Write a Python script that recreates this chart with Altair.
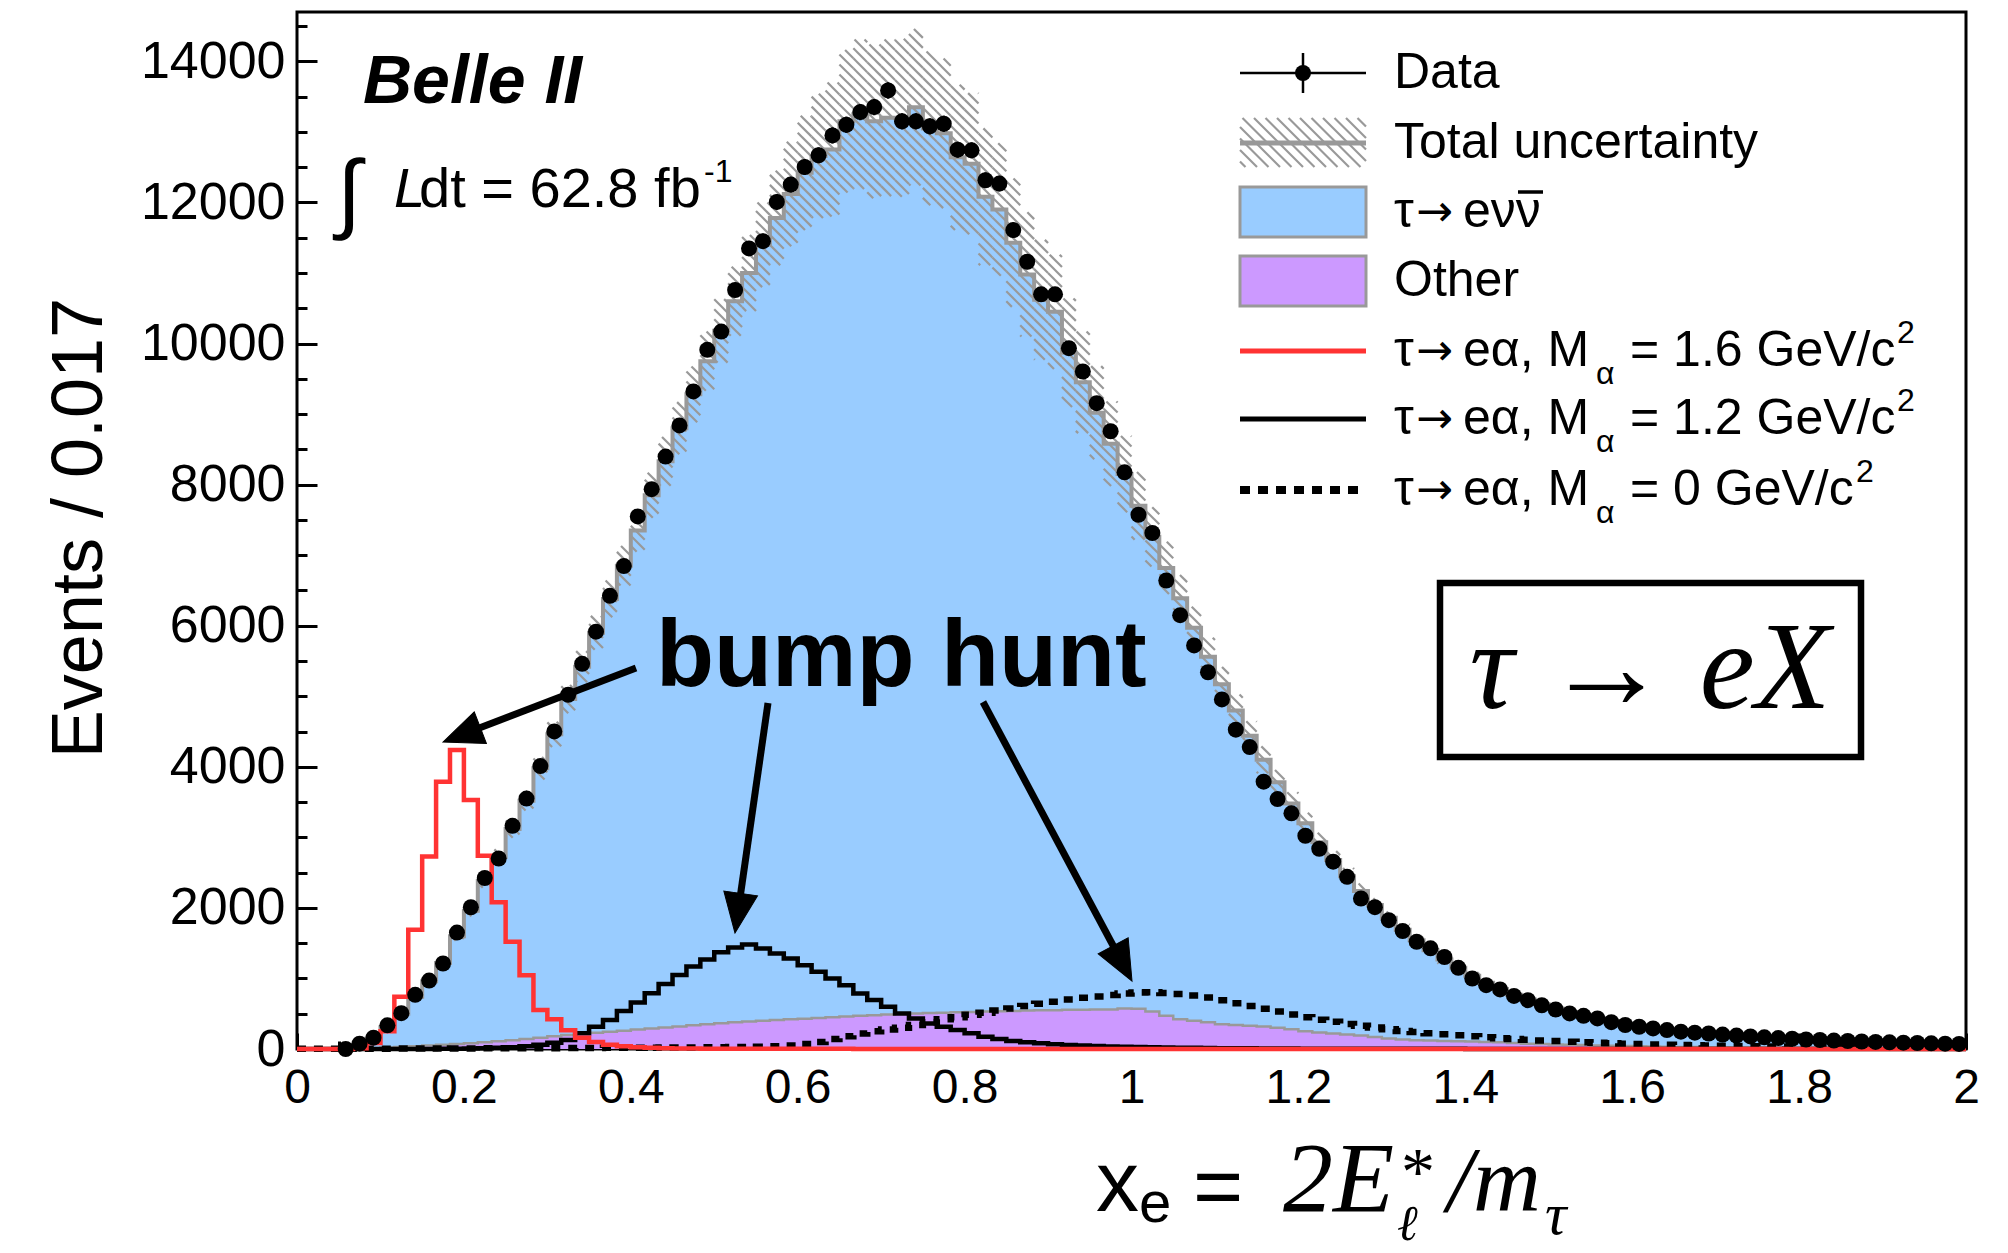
import math
import altair as alt
import pandas as pd

# ---------------- values (120 bins, 0..2) ----------------
N_BINS = 120
X_MIN, X_MAX = 0.0, 2.0
Y_MAX = 14700

data_counts = [0, 0, 0, 0, 75, 160, 335, 508, 768, 970,
               1212, 1650, 2009, 2424, 2700, 3163, 3550, 4011, 4502, 5022,
               5460, 5916, 6424, 6845, 7550, 7936, 8398, 8840, 9321, 9911,
               10170, 10759, 11348, 11452, 12008, 12253, 12503, 12669, 12951, 13102,
               13281, 13352, 13588, 13150, 13150, 13079, 13116, 12748, 12739, 12315,
               12268, 11608, 11160, 10698, 10698, 9934, 9604, 9155, 8757, 8175,
               7573, 7315, 6641, 6150, 5721, 5341, 4955, 4526, 4280, 3789,
               3543, 3341, 3023, 2839, 2655, 2440, 2133, 2010, 1826, 1673,
               1519, 1427, 1304, 1151, 999, 905, 844, 752, 692, 620,
               560, 505, 470, 434, 380, 340, 315, 292, 268, 245,
               232, 220, 205, 190, 178, 165, 155, 145, 135, 128,
               120, 113, 106, 100, 95, 90, 85, 80, 76, 72]

mc_total = [0, 0, 0, 10, 60, 150, 310, 500, 740, 960,
            1220, 1600, 1960, 2380, 2720, 3120, 3520, 3980, 4460, 4960,
            5420, 5900, 6380, 6850, 7350, 7850, 8330, 8800, 9280, 9750,
            10180, 10600, 11000, 11400, 11780, 12120, 12420, 12660, 12750, 13150,
            13250, 13150, 13200, 13200, 13350, 13050, 12980, 12640, 12550, 12080,
            11900, 11430, 10980, 10620, 10450, 9870, 9450, 9020, 8580, 8150,
            7700, 7260, 6820, 6390, 5970, 5560, 5170, 4800, 4440, 4100,
            3780, 3480, 3200, 2930, 2680, 2450, 2240, 2040, 1860, 1690,
            1540, 1400, 1270, 1150, 1040, 940, 850, 770, 700, 635,
            575, 520, 475, 432, 392, 355, 322, 293, 268, 246,
            228, 212, 198, 185, 173, 162, 152, 143, 135, 128,
            121, 114, 108, 102, 97, 92, 87, 83, 79, 75]

other = [0, 0, 0, 2, 5, 10, 20, 30, 40, 50,
         60, 70, 80, 95, 110, 125, 140, 160, 180, 200,
         215, 230, 245, 260, 275, 290, 305, 320, 335, 350,
         365, 380, 390, 400, 410, 420, 430, 440, 450, 460,
         470, 480, 490, 500, 505, 510, 515, 520, 525, 530,
         535, 540, 545, 550, 550, 555, 555, 560, 560, 575,
         570, 530, 470, 420, 400, 380, 350, 340, 330, 320,
         300, 280, 250, 235, 220, 205, 190, 170, 150, 135,
         125, 120, 115, 110, 105, 100, 95, 85, 75, 70,
         65, 60, 55, 50, 45, 42, 38, 35, 32, 30,
         28, 26, 24, 22, 21, 20, 19, 18, 17, 16,
         15, 14, 13, 12, 11, 10, 9, 8, 8, 7]

sig_16 = [0, 0, 0, 0, 10, 85, 250, 740, 1690, 2730,
          3790, 4240, 3530, 2740, 2080, 1520, 1045, 554, 420, 265,
          160, 100, 60, 40, 25, 18, 12, 8, 6, 5,
          4, 4, 3, 3, 3, 2, 2, 2, 2, 2,
          1, 1, 1, 1, 1, 1, 1, 1, 1, 1,
          1, 1, 1, 1, 1, 1, 1, 1, 1, 1,
          1, 1, 1, 1, 1, 1, 1, 1, 1, 1,
          0, 0, 0, 0, 0, 0, 0, 0, 0, 0,
          0, 0, 0, 0, 0, 0, 0, 0, 0, 0,
          0, 0, 0, 0, 0, 0, 0, 0, 0, 0,
          0, 0, 0, 0, 0, 0, 0, 0, 0, 0,
          0, 0, 0, 0, 0, 0, 0, 0, 0, 0]

sig_12 = [0, 0, 0, 0, 0, 0, 0, 0, 0, 0,
          2, 5, 8, 12, 18, 25, 40, 60, 90, 127,
          222, 316, 410, 540, 660, 790, 920, 1050, 1170, 1270,
          1370, 1440, 1480, 1424, 1354, 1283, 1188, 1094, 999, 905,
          787, 693, 598, 505, 434, 363, 316, 269, 222, 174,
          140, 115, 95, 80, 68, 58, 50, 43, 37, 32,
          28, 24, 21, 18, 16, 14, 12, 10, 9, 8,
          7, 6, 5, 5, 4, 4, 3, 3, 3, 2,
          2, 2, 2, 2, 1, 1, 1, 1, 1, 1,
          0, 0, 0, 0, 0, 0, 0, 0, 0, 0,
          0, 0, 0, 0, 0, 0, 0, 0, 0, 0,
          0, 0, 0, 0, 0, 0, 0, 0, 0, 0]

sig_0 = [2, 3, 3, 4, 4, 5, 5, 6, 6, 7,
         7, 8, 8, 9, 9, 10, 10, 11, 12, 13,
         14, 15, 16, 17, 18, 19, 20, 21, 22, 24,
         25, 27, 29, 32, 40, 50, 70, 100, 140, 180,
         220, 250, 275, 300, 340, 380, 420, 450, 485, 515,
         545, 575, 610, 640, 670, 700, 725, 745, 765, 785,
         800, 805, 795, 780, 760, 730, 690, 650, 610, 570,
         530, 490, 450, 415, 385, 355, 330, 305, 280, 255,
         240, 225, 210, 195, 180, 165, 152, 140, 130, 120,
         112, 104, 96, 89, 82, 76, 70, 65, 60, 56,
         52, 49, 46, 43, 40, 37, 35, 33, 31, 29,
         27, 26, 25, 24, 23, 22, 21, 20, 19, 18]

mc_unc = [0, 0, 0, 5, 5, 8, 14, 22, 32, 40,
          50, 65, 80, 95, 110, 125, 140, 160, 180, 200,
          220, 240, 260, 280, 300, 320, 345, 370, 395, 420,
          450, 490, 540, 600, 670, 740, 810, 880, 950, 1010,
          1060, 1090, 1110, 1120, 1110, 1090, 1060, 1030, 1000, 970,
          940, 910, 880, 850, 810, 770, 720, 660, 600, 540,
          480, 420, 370, 330, 300, 270, 245, 225, 205, 190,
          175, 160, 148, 136, 125, 115, 105, 96, 88, 80,
          73, 66, 60, 55, 50, 45, 41, 37, 34, 31,
          29, 27, 25, 23, 21, 20, 18, 17, 16, 15,
          14, 13, 12, 12, 11, 11, 10, 10, 9, 9,
          8, 8, 8, 7, 7, 7, 6, 6, 6, 6]

x_major = [0, 0.2, 0.4, 0.6, 0.8, 1.0, 1.2, 1.4, 1.6, 1.8, 2.0]
x_minor = [round(0.05 * i, 2) for i in range(41)]
y_major = [0, 2000, 4000, 6000, 8000, 10000, 12000, 14000]
y_minor = [500 * i for i in range(30)]

# ---------------- layout & style ----------------
W, H = 1669, 1037
PAD = {"left": 297, "top": 12, "right": 42, "bottom": 204}
SANS = "Liberation Sans"
SERIF = "Liberation Serif"
ARROWFONT = "DejaVu Sans"
BLUE, PURPLE, GRAY, RED = "#99ccff", "#cc99ff", "#999999", "#ff3333"
DOT = 256

bw = (X_MAX - X_MIN) / N_BINS
edges = [X_MIN + k * bw for k in range(N_BINS + 1)]
centers = [X_MIN + (k + 0.5) * bw for k in range(N_BINS)]


def px_x(x):
    return (x - X_MIN) / (X_MAX - X_MIN) * W


def px_y(v):
    return H - v / Y_MAX * H


def dx(p):
    return X_MIN + p / W * (X_MAX - X_MIN)


def dv(p):
    return (H - p) / H * Y_MAX


def step_frame(vals):
    return pd.DataFrame({"x": edges, "v": list(vals) + [vals[-1]]})


def hatch(rects, m=1.0, dc=10.0):
    segs = []
    for X0, X1, Yt, Yb in rects:
        cmin = Yt - m * X1
        cmax = Yb - m * X0
        for n in range(math.ceil(cmin / dc), math.floor(cmax / dc) + 1):
            c = n * dc
            xa = max(X0, (Yt - c) / m)
            xb = min(X1, (Yb - c) / m)
            if xb - xa > 0.3:
                segs.append((xa, m * xa + c, xb, m * xb + c))
    return segs


band_rects = []
for k in range(N_BINS):
    if mc_unc[k] > 0:
        band_rects.append((px_x(edges[k]), px_x(edges[k + 1]),
                           px_y(mc_total[k] + mc_unc[k]),
                           px_y(max(0, mc_total[k] - mc_unc[k]))))
segs = hatch(band_rects)
# legend hatch swatch
LEG_X0, LEG_X1 = 943, 1069
segs_leg = hatch([(LEG_X0, LEG_X1, 106, 155)], m=1.0, dc=11.5)
hatch_df = pd.DataFrame([{"x": dx(a), "y": dv(b), "x2": dx(c), "y2": dv(d)}
                         for a, b, c, d in segs + segs_leg])

xs = alt.Scale(domain=[X_MIN, X_MAX], nice=False, zero=False)
ys = alt.Scale(domain=[0, Y_MAX], nice=False, zero=False)

ax_x_lab = alt.Axis(values=x_major, format="~g", labelFont=SANS, labelFontSize=48,
                    labelColor="black", labelPadding=15, ticks=False, domain=False,
                    grid=False, title=None, labelFlush=False, labelOverlap=False,
                    labelBound=False)
ax_y_lab = alt.Axis(values=y_major, format="d", labelFont=SANS, labelFontSize=52,
                    labelColor="black", labelPadding=12, ticks=False, domain=False,
                    grid=False, title=None, labelFlush=False, labelOverlap=False,
                    labelBound=False)
ax_x_maj = alt.Axis(orient="top", offset=-H, values=x_major, labels=False, ticks=True,
                    tickSize=16, tickWidth=3, tickColor="black", domain=False,
                    grid=False, title=None)
ax_x_min = alt.Axis(orient="top", offset=-H, values=x_minor, labels=False, ticks=True,
                    tickSize=8, tickWidth=3, tickColor="black", domain=False,
                    grid=False, title=None)
ax_y_maj = alt.Axis(orient="right", offset=-W, values=y_major, labels=False, ticks=True,
                    tickSize=20, tickWidth=3, tickColor="black", domain=False,
                    grid=False, title=None)
ax_y_min = alt.Axis(orient="right", offset=-W, values=y_minor, labels=False, ticks=True,
                    tickSize=10, tickWidth=3, tickColor="black", domain=False,
                    grid=False, title=None)

layers = []

# stacked MC: total (blue) then Other (purple) at the bottom
layers.append(alt.Chart(step_frame(mc_total)).mark_area(
    interpolate="step-after", color=BLUE, opacity=1).encode(
    x=alt.X("x:Q", scale=xs, axis=ax_x_lab), y=alt.Y("v:Q", scale=ys, axis=ax_y_lab)))
layers.append(alt.Chart(step_frame(other)).mark_area(
    interpolate="step-after", color=PURPLE, opacity=1).encode(
    x=alt.X("x:Q", scale=xs, axis=ax_x_maj), y=alt.Y("v:Q", scale=ys, axis=ax_y_maj)))
layers.append(alt.Chart(step_frame(other)).mark_line(
    interpolate="step-after", color=GRAY, strokeWidth=2.5).encode(
    x=alt.X("x:Q", scale=xs, axis=ax_x_min), y=alt.Y("v:Q", scale=ys, axis=ax_y_min)))

# uncertainty hatch
layers.append(alt.Chart(hatch_df).mark_rule(color=GRAY, strokeWidth=2.2).encode(
    x=alt.X("x:Q", scale=xs, axis=None), y=alt.Y("y:Q", scale=ys, axis=None),
    x2="x2:Q", y2="y2:Q"))

# total MC line
layers.append(alt.Chart(step_frame(mc_total)).mark_line(
    interpolate="step-after", color=GRAY, strokeWidth=4).encode(
    x=alt.X("x:Q", scale=xs, axis=None), y=alt.Y("v:Q", scale=ys, axis=None)))

# signal hypotheses
for vals, col, dash, sw in [(sig_0, "black", [9, 8], 6.5), (sig_12, "black", None, 4.5),
                            (sig_16, RED, None, 4.5)]:
    mk = dict(interpolate="step-after", color=col, strokeWidth=sw)
    if dash:
        mk["strokeDash"] = dash
    layers.append(alt.Chart(step_frame(vals)).mark_line(**mk).encode(
        x=alt.X("x:Q", scale=xs, axis=None), y=alt.Y("v:Q", scale=ys, axis=None)))

# data points with Poisson error bars
pts = pd.DataFrame({"x": centers[3:], "n": data_counts[3:]})
base_pts = alt.Chart(pts).transform_calculate(
    lo="datum.n - sqrt(datum.n)", hi="datum.n + sqrt(datum.n)")
layers.append(base_pts.mark_rule(color="black", strokeWidth=2.5).encode(
    x=alt.X("x:Q", scale=xs, axis=None), y=alt.Y("lo:Q", scale=ys, axis=None), y2="hi:Q"))
layers.append(base_pts.mark_circle(size=DOT, color="black", opacity=1).encode(
    x=alt.X("x:Q", scale=xs, axis=None), y=alt.Y("n:Q", scale=ys, axis=None)))

ONE = pd.DataFrame({"a": [0]})


def txt(s, x, y, size, font=SANS, weight="normal", style="normal", align="left",
        baseline="alphabetic", angle=0):
    return alt.Chart(ONE).mark_text(text=s, font=font, fontSize=size, fontWeight=weight,
                                    fontStyle=style, align=align, baseline=baseline,
                                    angle=angle, color="black").encode(
        x=alt.value(x), y=alt.value(y))


def seg(x1, y1, x2, y2, color="black", width=3.0, dash=None, cap="butt"):
    mk = dict(color=color, strokeWidth=width, strokeCap=cap)
    if dash:
        mk["strokeDash"] = dash
    return alt.Chart(ONE).mark_rule(**mk).encode(
        x=alt.value(x1), y=alt.value(y1), x2=alt.value(x2), y2=alt.value(y2))


def box(x1, y1, x2, y2, fill, stroke, width):
    return alt.Chart(ONE).mark_rect(fill=fill, stroke=stroke, strokeWidth=width).encode(
        x=alt.value(x1), y=alt.value(y1), x2=alt.value(x2), y2=alt.value(y2))


ARROW = "M0,-1L0.85,1L-0.85,1Z"


def arrow(x0, y0, x1, y1):
    L = math.hypot(x1 - x0, y1 - y0)
    ux, uy = (x1 - x0) / L, (y1 - y0) / L
    ang = math.degrees(math.atan2(ux, -uy)) % 360
    out = [seg(x0, y0, x1 - 34 * ux, y1 - 34 * uy, width=7)]
    out.append(alt.Chart(ONE).mark_point(shape=ARROW, filled=True, fill="black",
                                         stroke="black", strokeWidth=1, size=1600,
                                         angle=ang, opacity=1).encode(
        x=alt.value(x1 - 20 * ux), y=alt.value(y1 - 20 * uy)))
    return out


# ---- annotations ----
layers.append(txt("Belle II", 66, 91, 68, weight="bold", style="italic"))
layers.append(txt("\u222b", 40, 210, 88))
layers.append(txt("L", 97, 195, 56, style="italic"))
layers.append(txt("dt = 62.8 fb", 122, 195, 56))
layers.append(txt("-1", 407, 170, 32))

layers.append(txt("bump hunt", 359, 674, 95, weight="bold"))
layers += arrow(339, 656, 146, 730)
layers += arrow(471, 691, 438, 921)
layers += arrow(686, 690, 835, 969)

layers.append(box(1143, 571, 1564, 745, "white", "black", 6.5))
layers.append(txt("\u03c4 \u2192 eX", 1353, 696, 124, font=SERIF, style="italic",
                  align="center"))

# axis titles
layers.append(txt("Events / 0.017", -217, 516, 72, align="center", baseline="middle",
                  angle=270))
layers.append(txt("x", 799, 1199, 86))
layers.append(txt("e", 842, 1210, 58))
layers.append(txt("=", 896, 1203, 86))
layers.append(txt("2E", 986, 1199, 100, font=SERIF, style="italic"))
layers.append(txt("*", 1104, 1182, 68, font=SERIF))
layers.append(txt("\u2113", 1100, 1228, 50, font=SERIF, style="italic"))
layers.append(txt("/m", 1150, 1199, 94, font=SERIF, style="italic"))
layers.append(txt("\u03c4", 1248, 1222, 60, font=SERIF, style="italic"))

# ---- legend ----
LX = 1097
LC = (LEG_X0 + LEG_X1) / 2
rows = [61, 131, 200, 269, 339, 407, 478]


def tau_arrow(r):
    return [txt("\u03c4", LX, r + 15, 50),
            txt("\u2192", 1119, r + 14, 44, font=ARROWFONT)]


# Data
layers.append(seg(LEG_X0, rows[0], LEG_X1, rows[0], width=2.5))
layers.append(seg(LC, rows[0] - 20, LC, rows[0] + 20, width=2.5))
layers.append(alt.Chart(ONE).mark_circle(size=DOT, color="black", opacity=1).encode(
    x=alt.value(LC), y=alt.value(rows[0])))
layers.append(txt("Data", LX, rows[0] + 15, 50))
# Total uncertainty (hatch drawn with the band layer)
layers.append(seg(LEG_X0, rows[1], LEG_X1, rows[1], color=GRAY, width=5))
layers.append(txt("Total uncertainty", LX, rows[1] + 15, 50))
# tau -> e nu nubar
layers.append(box(LEG_X0, rows[2] - 25, LEG_X1, rows[2] + 25, BLUE, GRAY, 3))
layers += tau_arrow(rows[2])
layers.append(txt("e\u03bd\u03bd", 1166, rows[2] + 15, 50))
layers.append(seg(1221, rows[2] - 20, 1246, rows[2] - 20, width=3.5))
# Other
layers.append(box(LEG_X0, rows[3] - 25, LEG_X1, rows[3] + 25, PURPLE, GRAY, 3))
layers.append(txt("Other", LX, rows[3] + 15, 50))
# signals
for r, col, dash, sw, mass, sup_x in [(rows[4], RED, None, 5, "1.6", 1600),
                                      (rows[5], "black", None, 5, "1.2", 1600),
                                      (rows[6], "black", [10, 8], 8, "0", 1559)]:
    layers.append(seg(LEG_X0, r, LEG_X1, r, color=col, width=sw, dash=dash))
    layers += tau_arrow(r)
    layers.append(txt("e\u03b1, M", 1166, r + 15, 50))
    layers.append(txt("\u03b1", 1299, r + 33, 32))
    layers.append(txt("= " + mass + " GeV/c", 1333, r + 15, 50))
    layers.append(txt("2", sup_x, r - 8, 32))

chart = alt.layer(*layers).resolve_axis(x="independent", y="independent").properties(
    width=W, height=H, padding=PAD, autosize=alt.AutoSizeParams(type="none"),
    background="white").configure_view(stroke="black", strokeWidth=3)

chart.save("out.html", embed_options={"renderer": "svg", "actions": False})
